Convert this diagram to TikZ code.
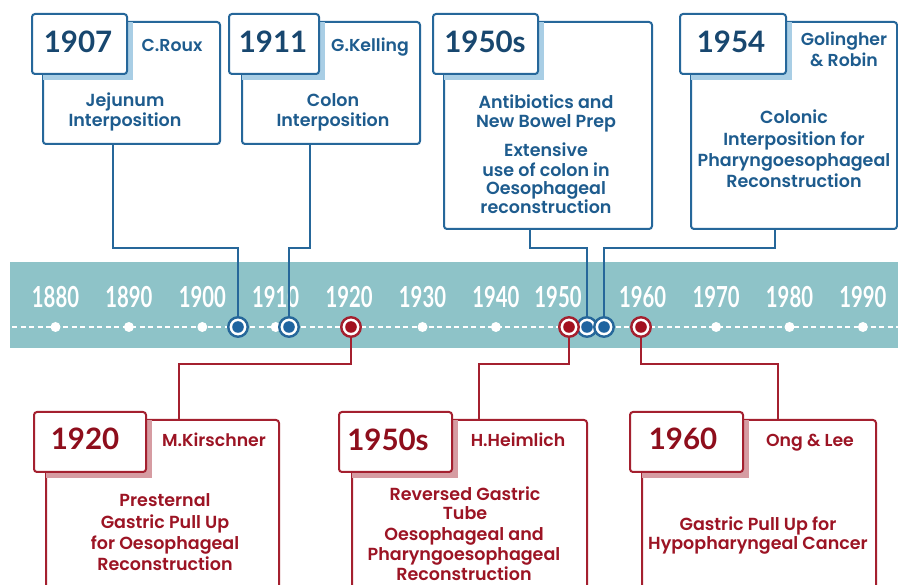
\documentclass[tikz,border=0pt]{standalone}
\usepackage{fontspec}
\setmainfont{Lato}
\newfontfamily\popfont{Poppins}[BoldFont={Poppins SemiBold}]
\usepackage{graphicx}
\definecolor{bline}{HTML}{26679A}
\definecolor{btext}{HTML}{1E5C8E}
\definecolor{byear}{HTML}{18476F}
\definecolor{bshadow}{HTML}{A9CEE5}
\definecolor{bdot}{HTML}{1F64A0}
\definecolor{rline}{HTML}{A4202F}
\definecolor{rtext}{HTML}{9C1424}
\definecolor{ryear}{HTML}{8E0E1C}
\definecolor{rshadow}{HTML}{D69CA2}
\definecolor{rdot}{HTML}{A3101F}
\definecolor{band}{HTML}{8EC3C8}
\newcommand{\mylines}[1]{\begin{tabular}[t]{@{}c@{}}#1\end{tabular}}
\tikzset{
 mainbox/.style={draw=#1line, fill=white, line width=2pt, rounded corners=3pt, inner sep=0pt},
 tabbox/.style={draw=#1line, fill=white, line width=2pt, rounded corners=3pt, inner sep=0pt},
 conn/.style={draw=#1line, line width=2pt},
 evdot/.style={circle, draw=#1line, line width=2.4pt, fill=white, minimum size=19.5pt, inner sep=0pt,
   path picture={\fill[#1dot] (path picture bounding box.center) circle (5.8pt);}},
 wdot/.style={circle, fill=white, minimum size=10pt, inner sep=0pt},
 yearlab/.style={text=white, font=\fontsize{29}{29}\selectfont\bfseries, anchor=base, inner sep=0pt},
 yr/.style={text=#1year, font=\fontsize{29.5}{29}\selectfont\bfseries, anchor=base, inner sep=0pt},
 nm/.style={text=#1text, font=\popfont\fontsize{17.3}{21}\selectfont\bfseries, anchor=base, inner sep=0pt},
 body/.style 2 args={text=#1text, font=\popfont\fontsize{17.5}{#2}\selectfont\bfseries, anchor=base, inner sep=0pt},
}
% name, colour, mx1, my1, mx2, my2, tabL, tabR
\newcommand{\tlbox}[8]{%
 \node[mainbox=#2, anchor=north west, minimum width={#5pt-#3pt}, minimum height={#6pt-#4pt}] (#1) at (#3,#4) {};
 \fill[#2shadow] (#3+1.2,#4+1.2) rectangle (#8+7,#4+59);
 \node[tabbox=#2, anchor=north west, minimum width={#8pt-#7pt}, minimum height=60pt] (#1tab) at (#7,#4-8) {};
}
\begin{document}
\begin{tikzpicture}[x=1pt,y=-1pt]
\useasboundingbox (0,0) rectangle (898,585);
\clip (0,0) rectangle (898,585);
\fill[white] (0,0) rectangle (898,585);
% timeline band
\fill[band] (10,262) rectangle (898,348);
\draw[white, line width=2pt, dash pattern=on 5pt off 3.5pt] (12,327) -- (898,327);
\foreach \i in {0,...,11} \node[wdot] (d\i) at ({55.5+73.4*\i},327) {};
\foreach \yr/\x in {1880/55.5,1890/128.9,1900/202.3,1910/275.7,1920/349.1,1930/422.5,1940/495.9,1950/558,1960/642.7,1970/716.1,1980/789.5,1990/862.9}
  \node[yearlab] (l\yr) at (\x,308) {\scalebox{0.7}[1]{\yr}};
% boxes
\tlbox{b1}{b}{42}{21}{219}{143}{31}{126}
\tlbox{b2}{b}{241}{21}{419}{143}{228}{318}
\tlbox{b3}{b}{443}{21}{651}{228}{432}{537}
\tlbox{b4}{b}{690}{21}{896}{228}{679}{785}
\tlbox{b5}{r}{45}{419}{278}{610}{33}{145}
\tlbox{b6}{r}{351}{419}{586}{610}{338}{451}
\tlbox{b7}{r}{641}{419}{875}{610}{629}{742}
% event circles
\node[evdot=b] (c1) at (238,327) {};
\node[evdot=b] (c2) at (289,327) {};
\node[evdot=b] (c3) at (587,327) {};
\node[evdot=b] (c4) at (604,327) {};
\node[evdot=r] (c5) at (351,327) {};
\node[evdot=r] (c6) at (569,327) {};
\node[evdot=r] (c7) at (641,327) {};
% connectors
\draw[conn=b] (b1.south -| 113,0) |- (c1 |- 0,248) -- (c1.north);
\draw[conn=b] (b2.south -| 310,0) |- (c2 |- 0,248) -- (c2.north);
\draw[conn=b] (b3.south -| 530,0) |- (c3 |- 0,248) -- (c3.north);
\draw[conn=b] (b4.south -| 775,0) |- (c4 |- 0,248) -- (c4.north);
\draw[conn=r] (c5.south) |- (179,364) -- (b5.north -| 179,0);
\draw[conn=r] (c6.south) |- (479,364) -- (b6.north -| 479,0);
\draw[conn=r] (c7.south) |- (778,364) -- (b7.north -| 778,0);
% texts, top
\node[yr=b] (y1) at (78,53) {1907};
\node[nm=b] (n1) at (172,52) {C.Roux};
\node[body={b}{20}] (t1) at (125,107) {\mylines{Jejunum\\Interposition}};
\node[yr=b] (y2) at (273,53) {1911};
\node[nm=b] (n2) at (370,52) {G.Kelling};
\node[body={b}{20}] (t2) at (333,107) {\mylines{Colon\\Interposition}};
\node[yr=b] (y3) at (485,53) {1950s};
\node[body={b}{18.5}] (t3) at (546,109) {\mylines{Antibiotics and\\New Bowel Prep}};
\node[body={b}{17.8}] (t3b) at (546,157) {\mylines{Extensive\\use of colon in\\Oesophageal\\reconstruction}};
\node[yr=b] (y4) at (731,53) {1954};
\node[nm=b] (n4) at (844,46) {\mylines{Golingher\\\& Robin}};
\node[body={b}{21.3}] (t4) at (794,124) {\mylines{Colonic\\Interposition for\\Pharyngoesophageal\\Reconstruction}};
% texts, bottom
\node[yr=r] (y5) at (85,450) {1920};
\node[nm=r] (n5) at (214,447) {M.Kirschner};
\node[body={r}{21.3}] (t5) at (165,507) {\mylines{Presternal\\Gastric Pull Up\\for Oesophageal\\Reconstruction}};
\node[yr=r] (y6) at (388,451) {1950s};
\node[nm=r] (n6) at (518,447) {H.Heimlich};
\node[body={r}{18}] (t6) at (465,501) {\mylines{Reversed Gastric\\Tube}};
\node[body={r}{20}] (t6b) at (464,540) {\mylines{Oesophageal and\\Pharyngoesophageal\\Reconstruction}};
\node[yr=r] (y7) at (683,450) {1960};
\node[nm=r] (n7) at (810,447) {Ong \& Lee};
\node[body={r}{20}] (t7) at (758,530) {\mylines{Gastric Pull Up for\\Hypopharyngeal Cancer}};
\end{tikzpicture}
\end{document}
